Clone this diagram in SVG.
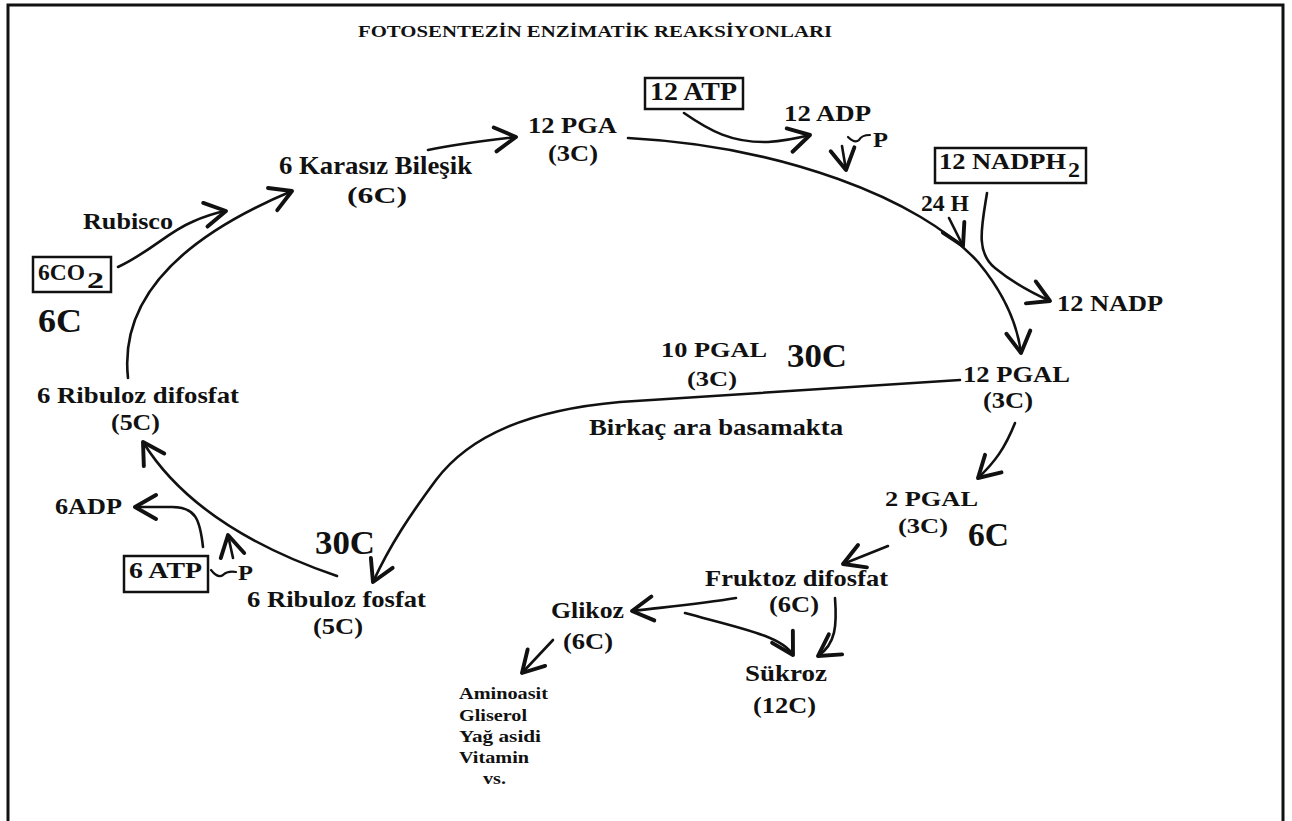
<svg xmlns="http://www.w3.org/2000/svg" width="1292" height="821" viewBox="0 0 1292 821">
<defs>
<marker id="ah" markerUnits="userSpaceOnUse" markerWidth="30" markerHeight="30" viewBox="-16 -10 20 20" refX="0" refY="0" orient="auto">
<path d="M-14,-8 L0,0 L-14,8" fill="none" stroke="#111" stroke-width="2.6" stroke-linecap="round" stroke-linejoin="round"/>
</marker>
<style>
text{font-family:"Liberation Serif","Times New Roman",serif;font-weight:bold;fill:#111}
.c{fill:none;stroke:#111;stroke-width:2.6;stroke-linecap:round}
.a{marker-end:url(#ah)}
.box{fill:#fff;stroke:#111;stroke-width:2.5}
.t{fill:none;stroke:#111;stroke-width:2.2;stroke-linecap:round}
</style>
</defs>
<rect width="1292" height="821" fill="#fff"/>
<path d="M8,821 V5 H1283 V821" fill="none" stroke="#111" stroke-width="3"/>

<g id="title"><text x="358" y="37" font-size="17" textLength="474" lengthAdjust="spacingAndGlyphs">FOTOSENTEZİN ENZİMATİK REAKSİYONLARI</text></g>

<g id="connectors">
<path class="c a" d="M118,267 C150,252 168,232 192,222 C205,216 215,213 226,211"/>
<path class="c a" d="M128,378 C120,305 170,242 292,191"/>
<path class="c a" d="M428,150 C460,143 490,140 516,137"/>
<path class="c a" d="M628,138 C780,146 920,198 978,262 C1003,292 1017,322 1021,353"/>
<path class="c a" d="M684,113 C710,131 732,143 768,142 C785,141 798,138 810,135"/>
<path class="c a" d="M842,146 L846,170"/>
<path class="t" d="M848,137 C852,141 856,143 859,140 C861,136 864,135 870,135"/>
<path class="c a" d="M949,218 L963,246"/>
<path class="c a" d="M987,193 C982,225 975,252 995,268 C1012,282 1030,292 1050,301"/>
<path class="c a" d="M960,380 L620,402 C530,410 470,435 436,480 C410,515 390,545 373,582"/>
<path class="c a" d="M337,576 C255,548 182,505 143,442"/>
<path class="c a" d="M203,547 C200,520 196,507 172,507 L135,507"/>
<path class="c a" d="M233,558 L228,535"/>
<path class="t" d="M211,570 C215,575 219,578 223,575 C226,572 229,571 236,572"/>
<path class="c a" d="M1015,423 C1005,448 995,462 978,478"/>
<path class="c a" d="M888,546 L843,564"/>
<path class="c a" d="M736,598 C700,604 665,607 632,611"/>
<path class="c a" d="M685,613 C740,628 782,636 793,655"/>
<path class="c a" d="M835,598 C837,625 836,644 818,656"/>
<path class="c a" d="M553,640 L522,673"/>
</g>

<g id="co2">
<rect class="box" x="33" y="257" width="78" height="35"/>
<text x="38" y="280" font-size="24" textLength="47" lengthAdjust="spacingAndGlyphs">6CO</text>
<text x="87" y="288" font-size="23" textLength="17" lengthAdjust="spacingAndGlyphs">2</text>
</g>
<g id="c6-left"><text x="38" y="332" font-size="33" textLength="44" lengthAdjust="spacingAndGlyphs">6C</text></g>
<g id="rubisco"><text x="83" y="229" font-size="24" textLength="90" lengthAdjust="spacingAndGlyphs">Rubisco</text></g>
<g id="karasiz">
<text x="279" y="174" font-size="25" textLength="193" lengthAdjust="spacingAndGlyphs">6 Karasız Bileşik</text>
<text x="347" y="203" font-size="24" textLength="60" lengthAdjust="spacingAndGlyphs">(6C)</text>
</g>
<g id="pga">
<text x="528" y="133" font-size="23" textLength="89" lengthAdjust="spacingAndGlyphs">12 PGA</text>
<text x="548" y="161" font-size="23" textLength="50" lengthAdjust="spacingAndGlyphs">(3C)</text>
</g>
<g id="atp12">
<rect class="box" x="645" y="78" width="98" height="31"/>
<text x="650" y="100" font-size="25" textLength="87" lengthAdjust="spacingAndGlyphs">12 ATP</text>
</g>
<g id="adp12"><text x="784" y="121" font-size="24" textLength="87" lengthAdjust="spacingAndGlyphs">12 ADP</text></g>
<g id="p-top"><text x="873" y="147" font-size="22" textLength="15" lengthAdjust="spacingAndGlyphs">P</text></g>
<g id="nadph">
<rect class="box" x="935" y="148" width="151" height="35"/>
<text x="939" y="169" font-size="24" textLength="127" lengthAdjust="spacingAndGlyphs">12 NADPH</text>
<text x="1068" y="177" font-size="22" textLength="12" lengthAdjust="spacingAndGlyphs">2</text>
</g>
<g id="h24"><text x="921" y="211" font-size="23" textLength="48" lengthAdjust="spacingAndGlyphs">24 H</text></g>
<g id="nadp"><text x="1057" y="311" font-size="24" textLength="106" lengthAdjust="spacingAndGlyphs">12 NADP</text></g>
<g id="pgal12">
<text x="963" y="382" font-size="23" textLength="107" lengthAdjust="spacingAndGlyphs">12 PGAL</text>
<text x="983" y="408" font-size="23" textLength="50" lengthAdjust="spacingAndGlyphs">(3C)</text>
</g>
<g id="pgal10">
<text x="661" y="357" font-size="22" textLength="106" lengthAdjust="spacingAndGlyphs">10 PGAL</text>
<text x="687" y="386" font-size="22" textLength="50" lengthAdjust="spacingAndGlyphs">(3C)</text>
</g>
<g id="c30-mid"><text x="787" y="367" font-size="33" textLength="60" lengthAdjust="spacingAndGlyphs">30C</text></g>
<g id="birkac"><text x="589" y="435" font-size="24" textLength="254" lengthAdjust="spacingAndGlyphs">Birkaç ara basamakta</text></g>
<g id="rdp">
<text x="37" y="403" font-size="24" textLength="202" lengthAdjust="spacingAndGlyphs">6 Ribuloz difosfat</text>
<text x="111" y="430" font-size="23" textLength="49" lengthAdjust="spacingAndGlyphs">(5C)</text>
</g>
<g id="adp6"><text x="55" y="514" font-size="23" textLength="67" lengthAdjust="spacingAndGlyphs">6ADP</text></g>
<g id="atp6">
<rect class="box" x="124" y="556" width="84" height="36"/>
<text x="129" y="578" font-size="23" textLength="73" lengthAdjust="spacingAndGlyphs">6 ATP</text>
</g>
<g id="p-bottom"><text x="238" y="580" font-size="22" textLength="15" lengthAdjust="spacingAndGlyphs">P</text></g>
<g id="c30-left"><text x="315" y="554" font-size="33" textLength="60" lengthAdjust="spacingAndGlyphs">30C</text></g>
<g id="rp">
<text x="247" y="607" font-size="24" textLength="179" lengthAdjust="spacingAndGlyphs">6 Ribuloz fosfat</text>
<text x="313" y="634" font-size="23" textLength="50" lengthAdjust="spacingAndGlyphs">(5C)</text>
</g>
<g id="pgal2">
<text x="885" y="506" font-size="22" textLength="93" lengthAdjust="spacingAndGlyphs">2 PGAL</text>
<text x="898" y="533" font-size="22" textLength="50" lengthAdjust="spacingAndGlyphs">(3C)</text>
</g>
<g id="c6-right"><text x="968" y="546" font-size="33" textLength="41" lengthAdjust="spacingAndGlyphs">6C</text></g>
<g id="fruktoz">
<text x="705" y="586" font-size="24" textLength="183" lengthAdjust="spacingAndGlyphs">Fruktoz difosfat</text>
<text x="769" y="612" font-size="23" textLength="50" lengthAdjust="spacingAndGlyphs">(6C)</text>
</g>
<g id="glikoz">
<text x="551" y="618" font-size="24" textLength="73" lengthAdjust="spacingAndGlyphs">Glikoz</text>
<text x="563" y="649" font-size="24" textLength="50" lengthAdjust="spacingAndGlyphs">(6C)</text>
</g>
<g id="sukroz">
<text x="745" y="681" font-size="24" textLength="82" lengthAdjust="spacingAndGlyphs">Sükroz</text>
<text x="753" y="713" font-size="24" textLength="63" lengthAdjust="spacingAndGlyphs">(12C)</text>
</g>
<g id="products">
<text x="459" y="699" font-size="17" textLength="89" lengthAdjust="spacingAndGlyphs">Aminoasit</text>
<text x="459" y="721" font-size="17" textLength="68" lengthAdjust="spacingAndGlyphs">Gliserol</text>
<text x="459" y="742" font-size="17" textLength="82" lengthAdjust="spacingAndGlyphs">Yağ asidi</text>
<text x="459" y="763" font-size="17" textLength="70" lengthAdjust="spacingAndGlyphs">Vitamin</text>
<text x="483" y="784" font-size="17" textLength="23" lengthAdjust="spacingAndGlyphs">vs.</text>
</g>
</svg>
